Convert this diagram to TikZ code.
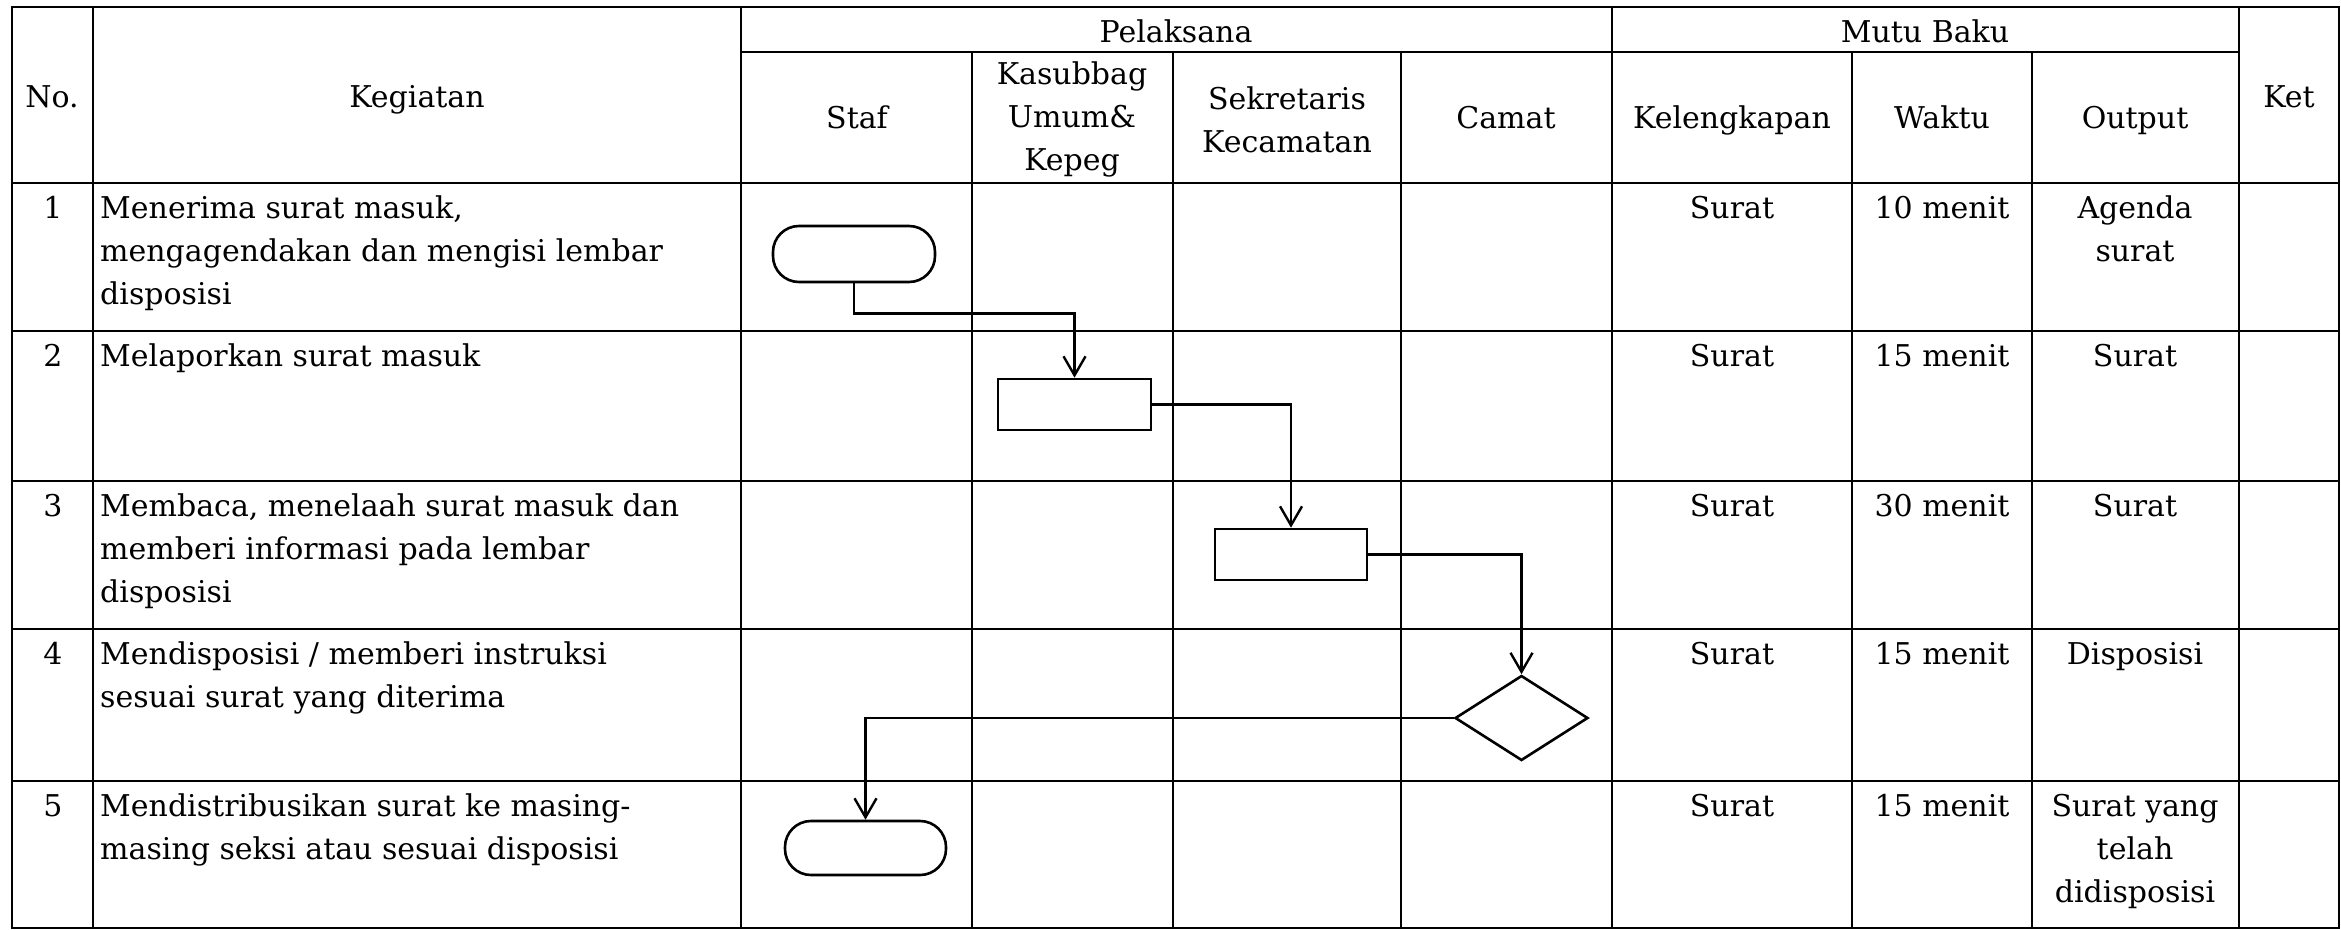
\documentclass[tikz,border=0pt]{standalone}
\usepackage{fontspec}
\setmainfont{DejaVu Serif}
\usetikzlibrary{arrows.meta,shapes.geometric}
\begin{document}
\begin{tikzpicture}[x=1pt,y=-1pt,
  tbl/.style={line width=2.8pt, line cap=rect},
  txt/.style={inner sep=0pt, font=\fontsize{30}{43}\selectfont},
  hd/.style={txt, anchor=base, align=center},
  cellL/.style={txt, anchor=north west, align=left},
  cellC/.style={txt, anchor=north, align=center},
  termbox/.style={draw, line width=2.6pt, rounded corners=26pt, inner sep=0pt},
  procbox/.style={draw, line width=2.6pt, inner sep=0pt},
  decbox/.style={draw, diamond, line width=2.6pt, inner sep=0pt},
  arr/.style={line width=2.4pt, -{Straight Barb[length=19pt,width=22pt,line width=2.4pt]}}]
\useasboundingbox (0,0) rectangle (2341,929);
% table frame
\draw[tbl] (12,7) rectangle (2339,928);
\foreach \x in {93,741,1612,2239} \draw[tbl] (\x,7) -- (\x,928);
\foreach \x in {972,1173,1401,1852,2032} \draw[tbl] (\x,52) -- (\x,928);
\draw[tbl] (741,52) -- (2239,52);
\foreach \y in {183,331,481,629,781} \draw[tbl] (12,\y) -- (2339,\y);
% headers
\node[hd] (hNo) at (52,107) {No.};
\node[hd] (hKeg) at (417,107) {Kegiatan};
\node[hd] (hPel) at (1176,42) {Pelaksana};
\node[hd] (hMutu) at (1925,42) {Mutu Baku};
\node[hd] (hKet) at (2289,107) {Ket};
\node[hd] (hStaf) at (857,128) {Staf};
\node[txt, align=center] (hKas) at (1072,119) {Kasubbag\\Umum\&\\Kepeg};
\node[txt, align=center] (hSek) at (1287,120) {Sekretaris\\Kecamatan};
\node[hd] (hCam) at (1506,128) {Camat};
\node[hd] (hKel) at (1732,128) {Kelengkapan};
\node[hd] (hWak) at (1942,128) {Waktu};
\node[hd] (hOut) at (2135,128) {Output};
% row 1
\node[cellC] (n1) at (53,188) {\strut 1};
\node[cellL] (k1) at (100,188) {\strut Menerima surat masuk,\\mengagendakan dan mengisi lembar\\disposisi};
\node[cellC] (l1) at (1732,188) {\strut Surat};
\node[cellC] (w1) at (1942,188) {\strut 10 menit};
\node[cellC] (o1) at (2135,188) {\strut Agenda\\surat};
% row 2
\node[cellC] (n2) at (53,336) {\strut 2};
\node[cellL] (k2) at (100,336) {\strut Melaporkan surat masuk};
\node[cellC] (l2) at (1732,336) {\strut Surat};
\node[cellC] (w2) at (1942,336) {\strut 15 menit};
\node[cellC] (o2) at (2135,336) {\strut Surat};
% row 3
\node[cellC] (n3) at (53,486) {\strut 3};
\node[cellL] (k3) at (100,486) {\strut Membaca, menelaah surat masuk dan\\memberi informasi pada lembar\\disposisi};
\node[cellC] (l3) at (1732,486) {\strut Surat};
\node[cellC] (w3) at (1942,486) {\strut 30 menit};
\node[cellC] (o3) at (2135,486) {\strut Surat};
% row 4
\node[cellC] (n4) at (53,634) {\strut 4};
\node[cellL] (k4) at (100,634) {\strut Mendisposisi / memberi instruksi\\sesuai surat yang diterima};
\node[cellC] (l4) at (1732,634) {\strut Surat};
\node[cellC] (w4) at (1942,634) {\strut 15 menit};
\node[cellC] (o4) at (2135,634) {\strut Disposisi};
% row 5
\node[cellC] (n5) at (53,786) {\strut 5};
\node[cellL] (k5) at (100,786) {\strut Mendistribusikan surat ke masing-\\masing seksi atau sesuai disposisi};
\node[cellC] (l5) at (1732,786) {\strut Surat};
\node[cellC] (w5) at (1942,786) {\strut 15 menit};
\node[cellC] (o5) at (2135,786) {\strut Surat yang\\telah\\didisposisi};
% flow shapes
\node[termbox, minimum width=162pt, minimum height=56pt] (t1) at (854,254) {};
\node[procbox, minimum width=153pt, minimum height=51pt] (p2) at (1074.5,404.5) {};
\node[procbox, minimum width=152pt, minimum height=51pt] (p3) at (1291,554.5) {};
\node[decbox, minimum width=133pt, minimum height=85pt] (d4) at (1521.5,718) {};
\node[termbox, minimum width=161pt, minimum height=54pt] (t5) at (865.5,848) {};
% connectors
\draw[arr] (t1.south) -- ++(0,30) -| (p2.north);
\draw[arr] (p2.east) -| (p3.north);
\draw[arr] (p3.east) -| (d4.north);
\draw[arr] (d4.west) -| (t5.north);
\end{tikzpicture}
\end{document}
